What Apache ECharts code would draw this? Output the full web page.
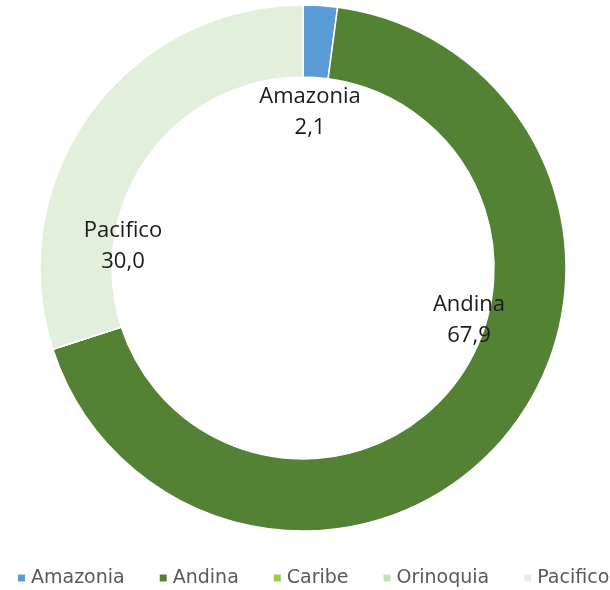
<!DOCTYPE html>
<html>
<head>
<meta charset="utf-8">
<script src="https://cdn.jsdelivr.net/npm/echarts@6/dist/echarts.min.js"></script>
<style>
  html, body { margin: 0; padding: 0; background: #fff; }
  #main { width: 610px; height: 590px; }
</style>
</head>
<body>
<div id="main"></div>
<script>
const regions = ['Amazonia', 'Andina', 'Caribe', 'Orinoquia', 'Pacifico']
const shares = [2.1, 67.9, 0, 0, 30.0]
const colors = ['#5b9bd5', '#548235', '#92d050', '#c5e0b4', '#e2efda']

// where Excel left the data labels (label block centre)
const labelSpots = {
    Amazonia: [310, 112],
    Andina: [469, 320],
    Pacifico: [123, 246]
}

const chart = echarts.init(document.getElementById('main'))

chart.setOption({
    color: colors,
    legend: {
        top: 568,
        left: 16,
        width: 800,
        padding: 0,
        itemWidth: 9,
        itemHeight: 9,
        itemGap: 33,
        icon: 'rect',
        textStyle: {
            color: '#595959', fontSize: 19, lineHeight: 20,
            fontFamily: 'DejaVu Sans'
        },
        data: regions
    },
    series: [
        {
            type: 'pie',
            center: [303, 268],
            radius: [191, 263],
            startAngle: 90,
            clockwise: true,
            avoidLabelOverlap: false,
            itemStyle: { borderColor: '#fff', borderWidth: 1.5 },
            emphasis: { disabled: true },
            label: {
                show: true,
                position: 'inside',
                color: '#1a1a1a',
                fontSize: 22,
                lineHeight: 31,
                fontFamily: 'Open Sans',
                align: 'center',
                formatter: p => p.name + '\n' + p.value.toFixed(1).replace('.', ',')
            },
            labelLine: { show: false },
            labelLayout: function (params) {
                const spot = labelSpots[regions[params.dataIndex]]
                if (!spot) return {}
                return { x: spot[0], y: spot[1], align: 'center', verticalAlign: 'middle' }
            },
            data: regions.map((name, i) => ({
                name: name,
                value: shares[i],
                label: { show: shares[i] > 0 }
            }))
        }
    ]
})
</script>
</body>
</html>
